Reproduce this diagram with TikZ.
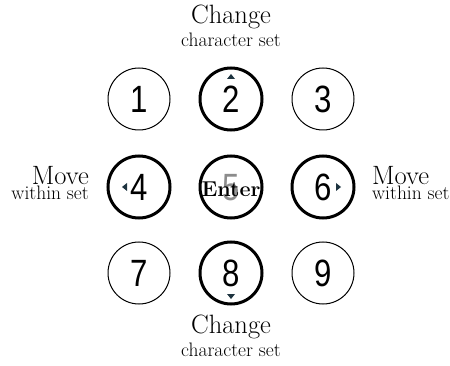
\documentclass[tikz,border=0pt]{standalone}
\usepackage{fontspec}
\newfontfamily\digitfont{Liberation Sans}
\usetikzlibrary{calc}
\definecolor{tipcol}{HTML}{1E3440}
\newcommand{\keynum}[1]{\scalebox{0.82}[1]{\digitfont\fontsize{38}{38}\selectfont #1}}

\begin{document}
\begin{tikzpicture}[x=1pt, y=-1pt,
  key/.style={circle, draw=black, line width=1pt, minimum size=62pt, inner sep=0pt},
  hotkey/.style={key, line width=3pt},
  bigtxt/.style={font=\fontsize{26.5}{26.5}\selectfont, inner sep=0pt},
  smalltxt/.style={font=\fontsize{19.5}{19.5}\selectfont, inner sep=0pt},
  tip/.style={fill=tipcol}]
  \useasboundingbox (0,0) rectangle (450,366);
  % keypad
  \node[key]    (k1) at (139,99)  {\keynum{1}};
  \node[hotkey] (k2) at (231,99)  {\keynum{2}};
  \node[key]    (k3) at (323,99)  {\keynum{3}};
  \node[hotkey] (k4) at (139,187) {\keynum{4}};
  \node[hotkey] (k5) at (231,187) {};
  \node[hotkey] (k6) at (323,187) {\keynum{6}};
  \node[key]    (k7) at (139,273) {\keynum{7}};
  \node[hotkey] (k8) at (231,273) {\keynum{8}};
  \node[key]    (k9) at (323,273) {\keynum{9}};
  \node[text=black!45, inner sep=0pt] (five) at (231,188) {\keynum{5}};
  \node[font=\bfseries\fontsize{21.5}{21.5}\selectfont, inner sep=0pt, anchor=base] (enter) at (231,197) {Enter};
  % direction marks
  \fill[tip] ($(k2)+(-4,-20)$) -- ($(k2)+(4,-20)$) -- ($(k2)+(0,-25)$) -- cycle;
  \fill[tip] ($(k8)+(-4,21)$) -- ($(k8)+(4,21)$) -- ($(k8)+(0,26)$) -- cycle;
  \fill[tip] ($(k4)+(-12,-4)$) -- ($(k4)+(-12,4)$) -- ($(k4)+(-17,0)$) -- cycle;
  \fill[tip] ($(k6)+(13,-4)$) -- ($(k6)+(13,4)$) -- ($(k6)+(18,0)$) -- cycle;
  % labels
  \node[bigtxt, anchor=base]   (chtop)  at (231,24)  {Change};
  \node[smalltxt, anchor=base] (cstop)  at (231,47)  {character set};
  \node[bigtxt, anchor=base]   (chbot)  at (231,333) {Change};
  \node[smalltxt, anchor=base] (csbot)  at (231,356) {character set};
  \node[bigtxt, anchor=base east]   (mvleft)  at (89,185)  {Move};
  \node[smalltxt, anchor=base east] (wsleft)  at (89,200)  {within set};
  \node[bigtxt, anchor=base west]   (mvright) at (372,185) {Move};
  \node[smalltxt, anchor=base west] (wsright) at (372,200) {within set};
\end{tikzpicture}
\end{document}
